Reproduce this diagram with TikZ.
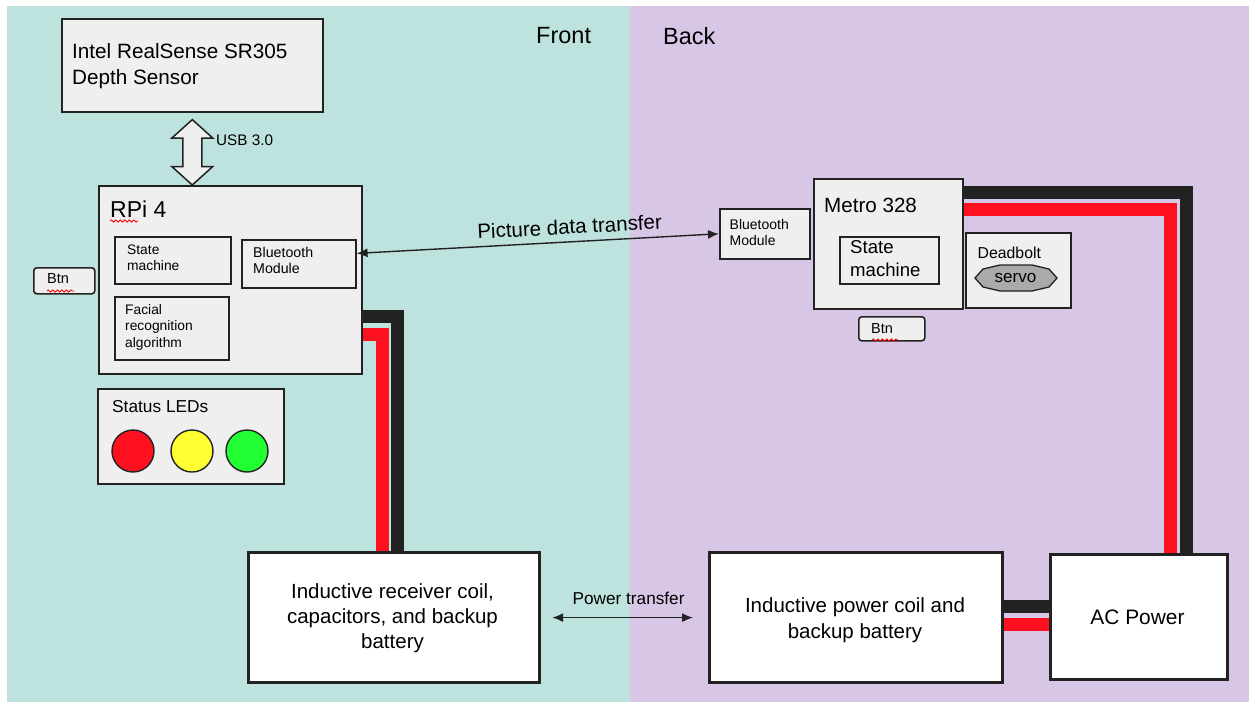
\documentclass[tikz,border=0pt]{standalone}
\usepackage{fontspec}
\setmainfont{Liberation Sans}
\usetikzlibrary{arrows.meta,decorations.pathmorphing,calc}
\definecolor{bgteal}{RGB}{190,226,222}
\definecolor{bgpurple}{RGB}{216,198,231}
\definecolor{boxfill}{RGB}{239,239,239}
\definecolor{linec}{RGB}{34,34,34}
\definecolor{wirered}{RGB}{255,16,32}
\definecolor{ledyellow}{RGB}{255,255,51}
\definecolor{ledgreen}{RGB}{34,255,51}
\definecolor{servogray}{RGB}{170,170,170}
\pgfdeclarelayer{back}
\pgfdeclarelayer{wires}
\pgfsetlayers{back,wires,main}
\tikzset{
  box/.style={draw=linec, fill=boxfill, line width=1.6pt, inner sep=0pt, anchor=north west},
  bigbox/.style={draw=linec, fill=white, line width=3.2pt, inner sep=0pt, anchor=north west},
  txt/.style={inner sep=0pt, anchor=north west, align=left, text=black},
  blackwire/.style={draw=linec, line width=13pt, line join=miter},
  redwire/.style={draw=wirered, line width=13pt, line join=miter},
  squig/.style={draw=red, line width=0.8pt, decorate, decoration={snake, amplitude=1.1pt, segment length=4.5pt}},
  conn/.style={draw=linec, line width=1.4pt, {Latex[length=11pt,width=9pt]}-{Latex[length=11pt,width=9pt]}},
  led/.style={circle, draw=linec, line width=1.4pt, minimum size=42pt, inner sep=0pt}
}
\begin{document}
\begin{tikzpicture}[x=1pt,y=-1pt]
\useasboundingbox (0,0) rectangle (1250,702);
\begin{pgfonlayer}{back}
\fill[bgteal] (7,6) rectangle (630,702);
\fill[bgpurple] (630,6) rectangle (1249,702);
\end{pgfonlayer}

\node[txt, font=\fontsize{23.5}{26}\selectfont] (front) at (536,27) {Front};
\node[txt, font=\fontsize{23.5}{26}\selectfont] (back) at (663,27) {Back};

% Sensor
\node[box, minimum width=261pt, minimum height=93pt] (sensor) at (61,18) {};
\node[txt, font=\fontsize{20.7}{26}\selectfont] (sensortxt) at (72,43.5) {Intel RealSense SR305\\Depth Sensor};

% RPi
\node[box, minimum width=263pt, minimum height=188pt] (rpi) at (98,185) {};
\node[txt, font=\fontsize{23}{26}\selectfont] (rpitxt) at (110,200.5) {RPi 4};
\draw[squig] (110,221) -- (138,221);

\node[box, minimum width=116pt, minimum height=47pt] (smR) at (114,236) {};
\node[txt, font=\fontsize{13.8}{16}\selectfont] (smRtxt) at (127,245) {State\\machine};
\node[box, minimum width=114pt, minimum height=48pt] (btR) at (241,239) {};
\node[txt, font=\fontsize{14.2}{16}\selectfont] (btRtxt) at (253,247.5) {Bluetooth\\Module};
\node[box, minimum width=114pt, minimum height=63pt] (face) at (114,296) {};
\node[txt, font=\fontsize{13.8}{16.5}\selectfont] (facetxt) at (125,304) {Facial\\recognition\\algorithm};

% USB fat arrow
\coordinate (usbT) at ($(sensor.south)+(0,7)$);
\coordinate (usbB) at (sensor.south |- rpi.north);
\draw[draw=linec, fill=boxfill, line width=1.5pt, line join=miter]
  (usbT) -- ++(20.5,18.5) -- ++(-11,0) -- ($(usbB)+(9.5,-18.5)$) -- ++(11,0) -- (usbB)
  -- ++(-20.5,-18.5) -- ++(11,0) -- ($(usbT)+(-9.5,18.5)$) -- ++(-11,0) -- cycle;
\node[txt, font=\fontsize{15.3}{17}\selectfont] (usbtxt) at (216,134.5) {USB 3.0};

% Btn left
\node[box, rounded corners=3pt, minimum width=61pt, minimum height=26pt] (btnL) at (33,267) {};
\node[txt, font=\fontsize{14.5}{16}\selectfont] (btnLtxt) at (47,273.5) {Btn};
\draw[squig] (47,291) -- (74,291);

% Status LEDs
\node[box, minimum width=186pt, minimum height=95pt] (leds) at (97,388) {};
\node[txt, font=\fontsize{17.3}{19}\selectfont] (ledstxt) at (112,400.5) {Status LEDs};
\node[led, fill=wirered] (ledR) at (133,451) {};
\node[led, fill=ledyellow] (ledY) at (192,451) {};
\node[led, fill=ledgreen] (ledG) at (247,451) {};

% Metro side
\node[box, minimum width=90pt, minimum height=50pt] (btM) at (719,208) {};
\node[txt, font=\fontsize{14}{16}\selectfont] (btMtxt) at (729.5,219) {Bluetooth\\Module};
\node[box, minimum width=149pt, minimum height=130pt] (metro) at (813,178) {};
\node[txt, font=\fontsize{20.6}{22}\selectfont] (metrotxt) at (824,197.5) {Metro 328};
\node[box, minimum width=99pt, minimum height=47pt] (smM) at (839,236) {};
\node[txt, font=\fontsize{18.6}{23}\selectfont] (smMtxt) at (850,240) {State\\machine};
\node[box, minimum width=105pt, minimum height=75pt] (dead) at (965,232) {};
\node[txt, font=\fontsize{15.8}{17}\selectfont] (deadtxt) at (977.5,246.5) {Deadbolt};
\coordinate (sv) at (1016,278);
\draw[draw=linec, fill=servogray, line width=1.3pt]
  ($(sv)+(-41,0)$) -- ($(sv)+(-33,-9)$) -- ($(sv)+(-16,-13)$) -- ($(sv)+(16,-13)$) -- ($(sv)+(33,-9)$)
  -- ($(sv)+(41,0)$) -- ($(sv)+(33,9)$) -- ($(sv)+(16,13)$) -- ($(sv)+(-16,13)$) -- ($(sv)+(-33,9)$) -- cycle;
\node[inner sep=0pt, font=\fontsize{17}{18}\selectfont] (servotxt) at (1015.5,278) {servo};
\node[box, rounded corners=3pt, minimum width=66pt, minimum height=24pt] (btnM) at (858,316) {};
\node[txt, font=\fontsize{14.5}{16}\selectfont] (btnMtxt) at (871,323.5) {Btn};
\draw[squig] (872,340) -- (898,340);

% Bottom boxes
\node[bigbox, minimum width=291pt, minimum height=130pt] (recv) at (247,551) {};
\node[inner sep=0pt, align=center, font=\fontsize{20.5}{25}\selectfont] (recvtxt) at (392.5,618)
  {Inductive receiver coil,\\capacitors, and backup\\battery};
\node[bigbox, minimum width=293pt, minimum height=130pt] (coil) at (708,551) {};
\node[inner sep=0pt, align=center, font=\fontsize{20.5}{26}\selectfont] (coiltxt) at (855,620.5)
  {Inductive power coil and\\backup battery};
\node[bigbox, minimum width=177pt, minimum height=125pt] (ac) at (1049,553) {};
\node[inner sep=0pt, font=\fontsize{20.9}{22}\selectfont] (actxt) at (1137.5,617) {AC Power};

% Wires
\coordinate (bw) at ($(coil.east)+(0,-11)$);
\coordinate (rw) at ($(coil.east)+(0,7)$);
\begin{pgfonlayer}{wires}
\draw[blackwire] ($(rpi.north east)+(0,131)$) -| ($(recv.north west)+(150,0)$);
\draw[redwire] ($(rpi.north east)+(0,149)$) -| ($(recv.north west)+(135,0)$);
\draw[blackwire] ($(metro.north east)+(0,14)$) -| ($(ac.north west)+(137,0)$);
\draw[redwire] ($(metro.north east)+(0,31)$) -| ($(ac.north west)+(121,0)$);
\draw[blackwire] (bw) -- (bw -| ac.west);
\draw[redwire] (rw) -- (rw -| ac.west);
\end{pgfonlayer}

% Connectors
\coordinate (picA) at ($(btR.north east)!0.29!(btR.south east)$);
\draw[conn] (picA) -- (btM.west)
  node[pos=0.59, above=7pt, sloped, inner sep=0pt, font=\fontsize{20.5}{22}\selectfont] (pictxt) {Picture data transfer};
\draw[conn] ($(recv.east)+(11,0)$) -- ($(coil.west)+(-15,0)$)
  node[midway, above=12pt, xshift=6pt, inner sep=0pt, font=\fontsize{17.2}{19}\selectfont] (pwrtxt) {Power transfer};
\end{tikzpicture}
\end{document}
